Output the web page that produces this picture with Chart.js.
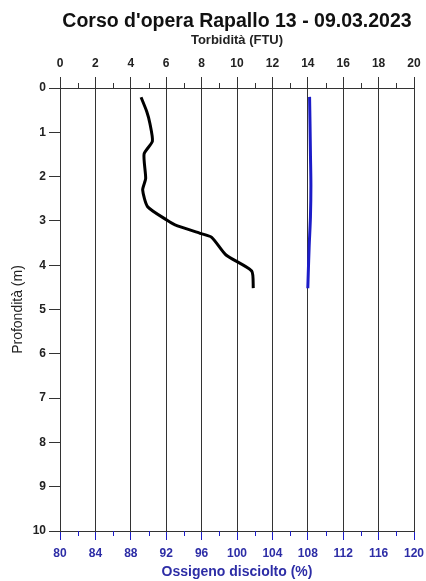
<!DOCTYPE html>
<html>
<head>
<meta charset="utf-8">
<script src="https://cdn.jsdelivr.net/npm/chart.js@4.4.1/dist/chart.umd.min.js"></script>
<style>
  html, body { margin: 0; padding: 0; background: #fff; }
  #wrap { width: 426px; height: 581px; }
</style>
</head>
<body>
<div id="wrap"><canvas id="chart"></canvas></div>
<script>
// depth profile, Rapallo 13 - 09.03.2023
const turbDepth = [0.21, 0.53, 0.8, 1.2, 1.49, 2.04, 2.3, 2.68, 2.98, 3.09, 3.28, 3.37, 3.77, 4.13, 4.52];
const turbValues = [4.58, 4.9, 5.08, 5.22, 4.75, 4.84, 4.67, 4.95, 6.03, 6.5, 7.91, 8.57, 9.38, 10.83, 10.92];

const oxyDepth = [0.2, 0.8, 1.5, 2.2, 2.9, 3.6, 4.2, 4.52];
const oxyValues = [108.2, 108.25, 108.3, 108.35, 108.3, 108.15, 108.05, 108.0];

const TITLE = "Corso d'opera Rapallo 13 - 09.03.2023";
const FONT = "'Liberation Sans', Arial, sans-serif";
const BLUE = '#1c1cc8';
const BLUE_TXT = '#2d2da6';

// Chart.js has no minor ticks, draw them here
const minorTicks = {
  id: 'minorTicks',
  afterDraw(chart) {
    const ctx = chart.ctx;
    const top = chart.scales.xT, bot = chart.scales.xO;
    ctx.save();
    ctx.lineWidth = 1;
    ctx.strokeStyle = '#333';
    for (let v = 1; v < 20; v += 2) {
      const x = Math.round(top.getPixelForValue(v)) + 0.5;
      ctx.beginPath();
      ctx.moveTo(x, top.bottom);
      ctx.lineTo(x, top.bottom - 5);
      ctx.stroke();
    }
    ctx.strokeStyle = BLUE;
    for (let v = 82; v < 120; v += 4) {
      const x = Math.round(bot.getPixelForValue(v)) + 0.5;
      ctx.beginPath();
      ctx.moveTo(x, bot.top);
      ctx.lineTo(x, bot.top + 5);
      ctx.stroke();
    }
    ctx.restore();
  }
};

// title centred over the plot area, not the whole canvas
const plotTitle = {
  id: 'plotTitle',
  afterDraw(chart) {
    const ctx = chart.ctx;
    const a = chart.chartArea;
    ctx.save();
    ctx.font = 'bold 19.5px ' + FONT;
    ctx.fillStyle = '#111';
    ctx.textAlign = 'center';
    ctx.textBaseline = 'middle';
    ctx.fillText(TITLE, (a.left + a.right) / 2, 22);
    ctx.restore();
  }
};

const fitX = (h) => (s) => {
  s.height = h;
  s.paddingLeft = 0;
  s.paddingRight = 0;
};

new Chart(document.getElementById('chart'), {
  type: 'line',
  data: {
    datasets: [
      {
        label: 'Torbidità',
        data: turbValues.map((v, i) => ({ x: v, y: turbDepth[i] })),
        xAxisID: 'xT',
        borderColor: '#000',
        borderWidth: 3,
        pointRadius: 0,
        tension: 0.2
      },
      {
        label: 'Ossigeno disciolto',
        data: oxyValues.map((v, i) => ({ x: v, y: oxyDepth[i] })),
        xAxisID: 'xO',
        borderColor: BLUE,
        borderWidth: 3,
        pointRadius: 0,
        tension: 0.3
      }
    ]
  },
  options: {
    responsive: true,
    maintainAspectRatio: false,
    animation: false,
    layout: { padding: { left: 6, right: 12, top: 33, bottom: 0 } },
    plugins: {
      legend: { display: false },
      tooltip: { enabled: false },
      title: { display: false }
    },
    scales: {
      xT: {
        type: 'linear',
        position: 'top',
        min: 0,
        max: 20,
        afterFit: fitX(55),
        ticks: {
          stepSize: 2,
          color: '#222',
          padding: 6,
          font: { family: FONT, size: 12, weight: 'bold' }
        },
        grid: { color: '#333', lineWidth: 1, tickLength: 11 },
        border: { color: '#333', width: 1 },
        title: {
          display: true,
          text: 'Torbidità (FTU)',
          color: '#222',
          font: { family: FONT, size: 13, weight: 'bold' },
          padding: { top: 0, bottom: 4 }
        }
      },
      xO: {
        type: 'linear',
        position: 'bottom',
        min: 80,
        max: 120,
        afterFit: fitX(50),
        ticks: {
          stepSize: 4,
          color: BLUE_TXT,
          padding: 6,
          font: { family: FONT, size: 12, weight: 'bold' }
        },
        grid: { drawOnChartArea: false, color: BLUE, tickLength: 9 },
        border: { color: '#333', width: 1 },
        title: {
          display: true,
          text: 'Ossigeno disciolto (%)',
          color: BLUE_TXT,
          font: { family: FONT, size: 14, weight: 'bold' },
          padding: { top: 0, bottom: 0 }
        }
      },
      y: {
        type: 'linear',
        reverse: true,
        min: 0,
        max: 10,
        afterFit: (s) => { s.width = 54; },
        ticks: {
          stepSize: 1,
          color: '#222',
          padding: 3,
          font: { family: FONT, size: 12, weight: 'bold' }
        },
        grid: { drawOnChartArea: false, color: '#333', tickLength: 11 },
        border: { color: '#333', width: 1 },
        title: {
          display: true,
          text: 'Profondità (m)',
          color: '#222',
          font: { family: FONT, size: 14 },
          padding: { top: 4, bottom: 6 }
        }
      }
    }
  },
  plugins: [minorTicks, plotTitle]
});
</script>
</body>
</html>
